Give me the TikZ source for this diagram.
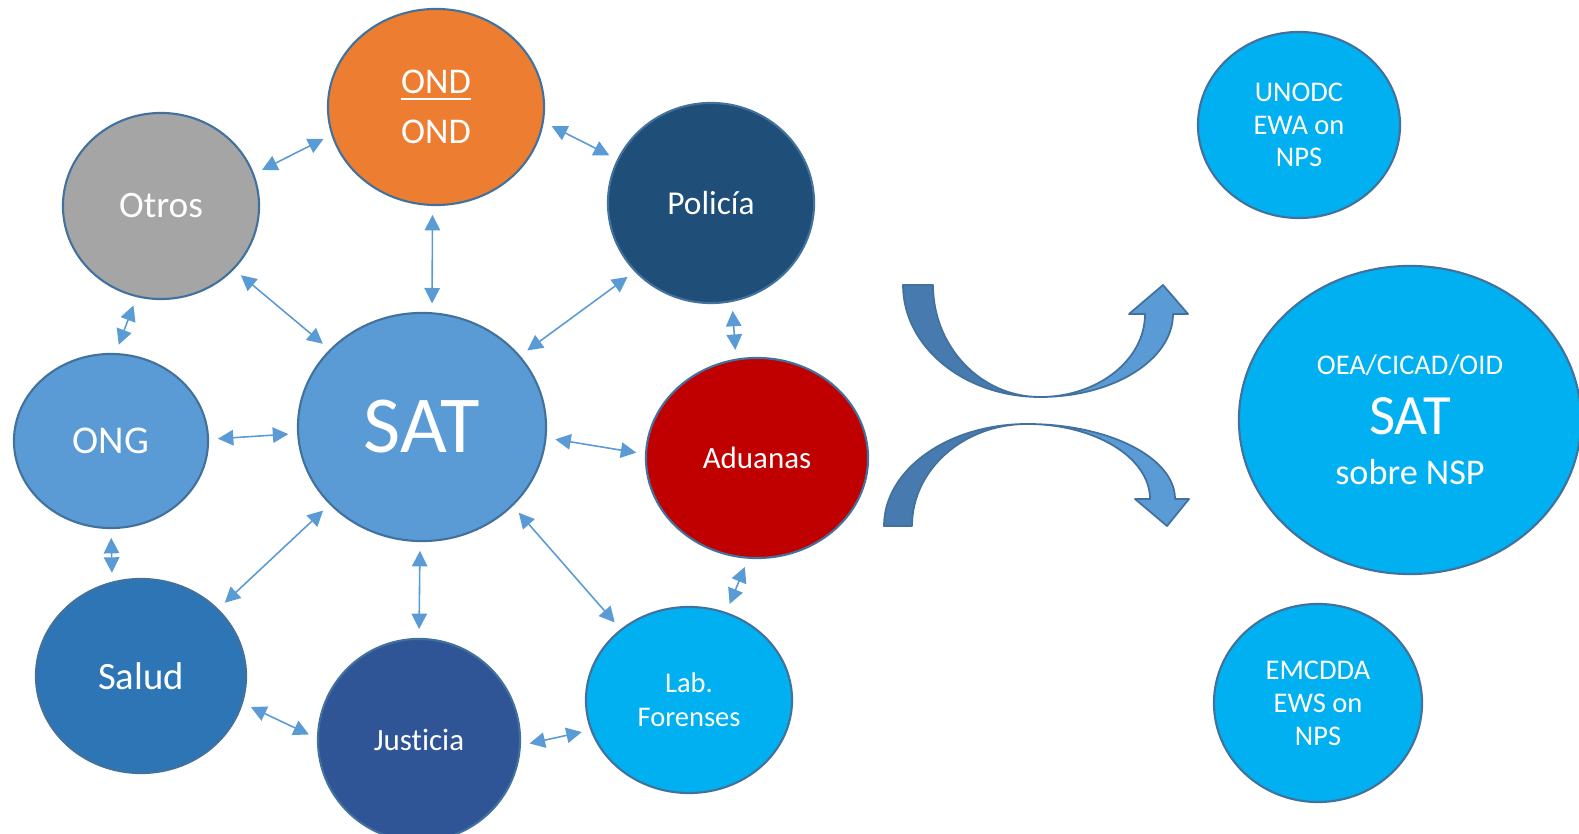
\documentclass[tikz,border=0pt]{standalone}
\usepackage{fontspec}
\setmainfont[Ligatures=NoCommon]{Carlito}
\usetikzlibrary{shapes.geometric,arrows.meta}

\definecolor{edgeblue}{HTML}{41719C}
\definecolor{linkblue}{HTML}{5B9BD5}
\definecolor{satblue}{HTML}{5B9BD5}
\definecolor{ondorange}{HTML}{ED7D31}
\definecolor{otrosgray}{HTML}{A5A5A5}
\definecolor{policiablue}{HTML}{1F4E79}
\definecolor{aduanasred}{HTML}{C00000}
\definecolor{saludblue}{HTML}{2E75B6}
\definecolor{justiciablue}{HTML}{2F5597}
\definecolor{skyblue}{HTML}{00B0F0}
\definecolor{benddark}{HTML}{477AAE}

\newcommand{\fsize}[2]{\fontsize{#1}{#2}\selectfont}

\tikzset{
  bubble/.style={ellipse, draw=edgeblue, line width=0.6pt, text=white, inner sep=0pt, align=center},
  link/.style={draw=linkblue, line width=0.45pt,
    {Triangle[length=4.4pt,width=4.4pt]}-{Triangle[length=4.4pt,width=4.4pt]},
    shorten <=2.5pt, shorten >=2.5pt},
  bendarrow/.style={draw=edgeblue, line width=0.5pt, line join=round},
}

\begin{document}
\begin{tikzpicture}[x=0.01cm, y=0.01cm]
\useasboundingbox (0,0) rectangle (1579,-834);

% national network
\node[bubble, fill=ondorange, minimum width=2.16cm, minimum height=1.96cm, font=\fsize{10.3}{14.2}] (ond) at (436,-107) {\underline{OND}\\OND};
\node[bubble, fill=otrosgray, minimum width=1.96cm, minimum height=1.86cm, font=\fsize{10.6}{13}] (otros) at (161,-206) {Otros};
\node[bubble, fill=policiablue, minimum width=2.06cm, minimum height=2.00cm, font=\fsize{9.5}{11.5}] (policia) at (711,-203) {Policía};
\node[bubble, fill=satblue, minimum width=2.48cm, minimum height=2.28cm, font=\fsize{23}{27}] (sat) at (422,-427) {SAT};
\node[bubble, fill=satblue, minimum width=1.94cm, minimum height=1.74cm, font=\fsize{11.2}{13.5}] (ong) at (111,-441) {ONG};
\node[bubble, fill=aduanasred, minimum width=2.22cm, minimum height=2.00cm, font=\fsize{8.8}{10.6}] (aduanas) at (757,-458) {Aduanas};
\node[bubble, fill=saludblue, minimum width=2.10cm, minimum height=1.94cm, font=\fsize{11}{13.2}] (salud) at (141,-676) {Salud};
\node[bubble, fill=justiciablue, minimum width=2.02cm, minimum height=2.02cm, font=\fsize{8.8}{10.6}] (justicia) at (419,-740) {Justicia};
\node[bubble, fill=skyblue, minimum width=2.06cm, minimum height=1.86cm, font=\fsize{8.1}{9.7}] (lab) at (689,-700) {Lab.\\Forenses};

% international systems
\node[bubble, fill=skyblue, minimum width=2.02cm, minimum height=1.86cm, font=\fsize{8.1}{9.3}] (unodc) at (1299,-125) {UNODC\\EWA on\\NPS};
\node[bubble, fill=skyblue, minimum width=3.42cm, minimum height=3.08cm, font=\fsize{10.3}{14.2}] (oea) at (1410,-420)
  {{\fsize{8.1}{9.3}OEA/CICAD/OID}\\[2.8pt]{\fsize{16.2}{18}SAT}\\sobre NSP};
\node[bubble, fill=skyblue, minimum width=2.08cm, minimum height=1.98cm, font=\fsize{8.1}{9.4}] (emcdda) at (1318,-703) {EMCDDA\\EWS on\\NPS};

% two-way links
\foreach \a/\aa/\b/\ba in {otros/19/ond/195, ond/352/policia/155, ond/268/sat/85,
    otros/319/sat/140, policia/222/sat/36, otros/255/ong/87, ong/1/sat/183,
    policia/282/aduanas/102, sat/355/aduanas/178, ong/270/salud/107,
    sat/220/salud/41, sat/269/justicia/90, sat/319/lab/134, aduanas/265/lab/67,
    salud/345/justicia/179, justicia/357/lab/197}
  \draw[link] (\a.\aa) -- (\b.\ba);

% curved arrows
\fill[bendarrow, fill=linkblue] (1040,-397) arc[start angle=270, end angle=360, x radius=133, y radius=83]
  -- (1188,-314) -- (1163,-285) -- (1129,-314) -- (1145,-314)
  arc[start angle=0, end angle=-90, x radius=105, y radius=83] -- cycle;
\fill[bendarrow, fill=benddark] (903,-285) arc[start angle=180, end angle=270, x radius=137, y radius=112]
  arc[start angle=270, end angle=180, x radius=107, y radius=112] -- cycle;

\fill[bendarrow, fill=linkblue] (1027,-424) arc[start angle=90, end angle=0, x radius=148, y radius=75]
  -- (1189,-499) -- (1167,-526) -- (1135,-499) -- (1150,-499)
  arc[start angle=0, end angle=90, x radius=123, y radius=75] -- cycle;
\fill[bendarrow, fill=benddark] (884,-526) arc[start angle=180, end angle=90, x radius=143, y radius=102]
  arc[start angle=90, end angle=180, x radius=115, y radius=102] -- cycle;
\end{tikzpicture}
\end{document}
